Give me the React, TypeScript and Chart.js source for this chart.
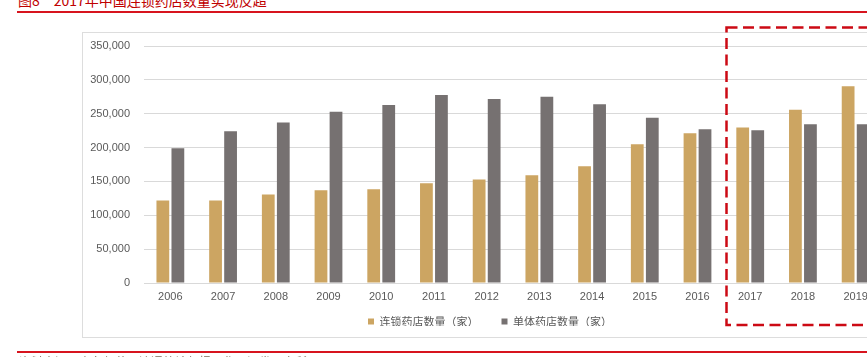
import React, { useEffect, useRef } from "react";
import { Chart, registerables } from "chart.js";

Chart.register(...registerables);

const years = ["2006", "2007", "2008", "2009", "2010", "2011", "2012", "2013", "2014", "2015", "2016", "2017", "2018", "2019"];
const chainStores = [122000, 121700, 130600, 137000, 138400, 147300, 153000, 159000, 172300, 205000, 221000, 229600, 255700, 290400];
const singleStores = [199000, 224000, 237000, 253000, 262700, 277500, 271600, 275000, 264000, 244000, 227000, 225600, 234500, 234500];
const chainLabel = "连锁药店数量（家）";
const singleLabel = "单体药店数量（家）";
const titleText = "图8　2017年中国连锁药店数量实现反超";
const sourceText = "资料来源：商务部药品流通统计年报，华西证券研究所";

const GOLD = "#CCA562";
const GRAY = "#767171";
const TEXT = "#595959";

const legendShift = {
  id: "legendShift",
  afterLayout(chart: any) {
    const l = chart.legend;
    if (l) {
      l.top -= 11;
      l.bottom -= 11;
    }
  },
};

export default function App() {
  const ref = useRef<HTMLCanvasElement>(null);

  useEffect(() => {
    if (!ref.current) return;
    const chart = new Chart(ref.current, {
      type: "bar",
      data: {
        labels: years,
        datasets: [
          { label: chainLabel, data: chainStores, backgroundColor: GOLD, borderWidth: 0 },
          { label: singleLabel, data: singleStores, backgroundColor: GRAY, borderWidth: 0 },
        ],
      },
      plugins: [legendShift],
      options: {
        animation: false,
        responsive: false,
        maintainAspectRatio: false,
        datasets: { bar: { categoryPercentage: 0.57, barPercentage: 0.85 } },
        layout: { padding: { left: 0, right: 2, top: 13, bottom: 0 } },
        plugins: {
          tooltip: { enabled: false },
          legend: {
            display: true,
            position: "bottom",
            maxHeight: 33,
            labels: {
              boxWidth: 6,
              boxHeight: 6,
              padding: 23,
              color: TEXT,
              font: { family: "'Noto Sans CJK SC', sans-serif", size: 11 },
            },
          },
        },
        scales: {
          x: {
            grid: { display: false, drawTicks: false },
            border: { display: false },
            ticks: {
              color: TEXT,
              padding: 7,
              font: { family: "'Liberation Sans', Arial, sans-serif", size: 11 },
            },
            afterFit: (s: any) => { s.height = 21; },
          },
          y: {
            min: 0,
            max: 350000,
            grid: { color: "#D9D9D9", lineWidth: 1, drawTicks: false },
            border: { display: false },
            ticks: {
              stepSize: 50000,
              color: TEXT,
              padding: 14,
              font: { family: "'Liberation Sans', Arial, sans-serif", size: 11 },
              callback: (v: any) => Number(v).toLocaleString("en-US"),
            },
            afterFit: (s: any) => {
              s.width = 61;
              s.paddingTop = 7;
              s.paddingBottom = 7;
            },
          },
          y2: {
            position: "right",
            display: true,
            grid: { display: false, drawTicks: false },
            border: { display: false },
            ticks: { display: false },
            afterFit: (s: any) => { s.width = 15; },
          },
        },
      },
    });
    return () => chart.destroy();
  }, []);

  return (
    <div style={{ position: "fixed", left: 0, top: 0, width: 867, height: 357, overflow: "hidden", background: "#fff" }}>
      <div style={{ position: "absolute", left: 18, top: -8, fontFamily: "'Noto Sans CJK SC', sans-serif", fontSize: 14, lineHeight: "16px", color: "#C00000", whiteSpace: "nowrap" }}>
        {titleText}
      </div>
      <div style={{ position: "absolute", left: 17, top: 11, width: 860, height: 2, background: "#D7141E" }} />
      <div style={{ position: "absolute", left: 82, top: 32, width: 830, height: 306, border: "1px solid #DDDDDD", boxSizing: "border-box" }} />
      <div style={{ position: "absolute", left: 83, top: 33, width: 816, height: 304 }}>
        <canvas ref={ref} width={816} height={304} style={{ width: 816, height: 304, display: "block" }} />
      </div>
      <svg style={{ position: "absolute", left: 0, top: 0 }} width={867} height={357}>
        <rect x={726.5} y={27.5} width={200} height={297.5} fill="none" stroke="#CC0A14" strokeWidth={2.5} strokeDasharray="11 5.5" />
      </svg>
      <div style={{ position: "absolute", left: 17, top: 351, width: 860, height: 2, background: "#D7141E" }} />
      <div style={{ position: "absolute", left: 19, top: 355, fontFamily: "'Noto Sans CJK SC', sans-serif", fontSize: 12, lineHeight: "14px", color: "#7A6A5A", whiteSpace: "nowrap" }}>
        {sourceText}
      </div>
    </div>
  );
}
